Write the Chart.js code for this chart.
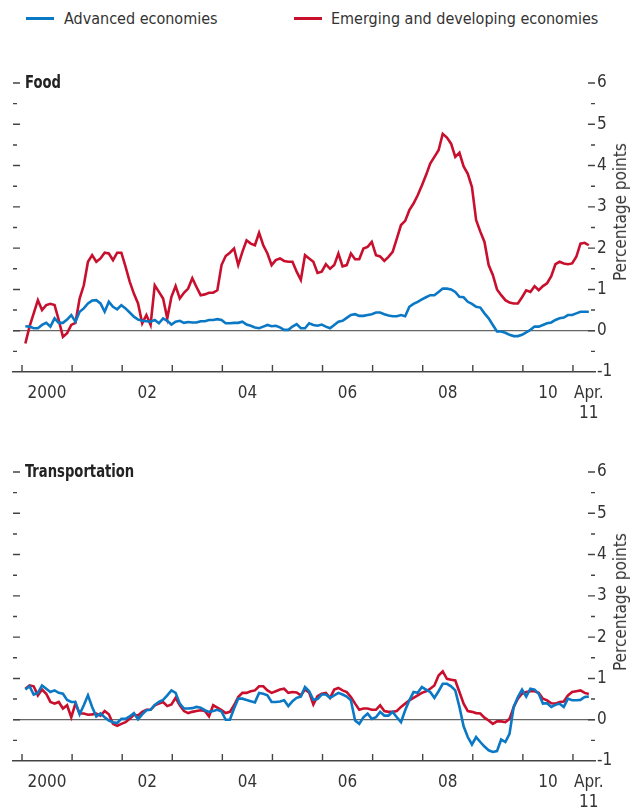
<!DOCTYPE html>
<html>
<head>
<meta charset="utf-8">
<script src="https://cdn.jsdelivr.net/npm/chart.js@4.4.0/dist/chart.umd.min.js"></script>
<style>
  body { margin: 0; width: 630px; height: 809px; position: relative; overflow: hidden; background: #fff;
         font-family: "Liberation Sans Narrow", "DejaVu Sans Condensed", Roboto, sans-serif; color: #333; }
  canvas { position: absolute; left: 0; }
  .swatch { position: absolute; top: 17px; width: 28px; height: 3px; }
  .key { position: absolute; top: 9px; font-size: 16px; line-height: 20px; white-space: nowrap; }
  .ptitle { position: absolute; left: 25px; font-size: 17px; font-weight: bold; line-height: 18px; color: #222;
            transform: scaleX(0.86); transform-origin: left center; }
  .ytitle { position: absolute; font-size: 17px; white-space: nowrap; transform: translate(-50%, -50%) rotate(-90deg); }
</style>
</head>
<body>
<div class="swatch" style="left:26px;background:#0a78c4"></div>
<div class="key" style="left:64px">Advanced economies</div>
<div class="swatch" style="left:294px;background:#c8102e"></div>
<div class="key" style="left:331px">Emerging and developing economies</div>

<canvas id="food" width="630" height="380" style="top:40px"></canvas>
<div class="ptitle" style="top:73px">Food</div>
<div class="ytitle" style="left:620px;top:212px">Percentage points</div>

<canvas id="trans" width="630" height="380" style="top:429px"></canvas>
<div class="ptitle" style="top:462px">Transportation</div>
<div class="ytitle" style="left:620px;top:602px">Percentage points</div>

<script>
// Monthly data, Jan 2000 .. Apr 2011
const foodAdvanced = [
  0.11, 0.10, 0.06, 0.06, 0.14, 0.19, 0.10, 0.30, 0.19, 0.19, 0.27, 0.38,
  0.22, 0.46, 0.54, 0.66, 0.73, 0.74, 0.66, 0.46, 0.70, 0.58, 0.52, 0.62,
  0.54, 0.44, 0.34, 0.27, 0.24, 0.23, 0.22, 0.26, 0.18, 0.30, 0.24, 0.15,
  0.22, 0.24, 0.19, 0.21, 0.20, 0.20, 0.23, 0.23, 0.26, 0.26, 0.28, 0.26,
  0.18, 0.18, 0.19, 0.19, 0.22, 0.15, 0.12, 0.08, 0.06, 0.10, 0.14, 0.11,
  0.12, 0.08, 0.02, 0.02, 0.10, 0.16, 0.06, 0.06, 0.18, 0.14, 0.12, 0.15,
  0.10, 0.06, 0.14, 0.22, 0.24, 0.31, 0.38, 0.40, 0.36, 0.36, 0.38, 0.40,
  0.44, 0.44, 0.40, 0.37, 0.35, 0.35, 0.38, 0.35, 0.58, 0.65, 0.70, 0.76,
  0.81, 0.86, 0.86, 0.94, 1.02, 1.02, 1.00, 0.94, 0.82, 0.81, 0.70, 0.65,
  0.58, 0.56, 0.42, 0.30, 0.14, -0.02, -0.02, -0.05, -0.10, -0.13, -0.13, -0.10,
  -0.04, 0.02, 0.10, 0.10, 0.14, 0.18, 0.20, 0.26, 0.30, 0.32, 0.38, 0.38,
  0.42, 0.46, 0.46, 0.46
];
const foodEmerging = [
  -0.31, 0.10, 0.42, 0.74, 0.50, 0.62, 0.65, 0.62, 0.26, -0.15, -0.06, 0.14,
  0.19, 0.78, 1.10, 1.67, 1.83, 1.67, 1.75, 1.89, 1.87, 1.71, 1.89, 1.89,
  1.55, 1.19, 0.90, 0.66, 0.18, 0.38, 0.14, 1.10, 0.94, 0.78, 0.30, 0.82,
  1.08, 0.78, 0.92, 1.02, 1.27, 1.06, 0.86, 0.88, 0.92, 0.92, 0.98, 1.59,
  1.81, 1.89, 1.99, 1.59, 1.91, 2.19, 2.11, 2.07, 2.37, 2.07, 1.87, 1.59,
  1.71, 1.75, 1.69, 1.67, 1.67, 1.43, 1.23, 1.83, 1.75, 1.67, 1.40, 1.43,
  1.61, 1.50, 1.59, 1.87, 1.56, 1.59, 1.87, 1.73, 1.73, 1.99, 2.03, 2.15,
  1.83, 1.80, 1.69, 1.79, 1.91, 2.23, 2.56, 2.66, 2.92, 3.08, 3.28, 3.52,
  3.77, 4.05, 4.21, 4.37, 4.77, 4.68, 4.53, 4.21, 4.31, 3.98, 3.80, 3.48,
  2.68, 2.40, 2.15, 1.59, 1.35, 1.00, 0.86, 0.74, 0.68, 0.66, 0.66, 0.81,
  0.98, 0.94, 1.08, 0.98, 1.08, 1.15, 1.32, 1.61, 1.67, 1.63, 1.61, 1.63,
  1.79, 2.11, 2.13, 2.07
];
const transAdvanced = [
  0.73, 0.81, 0.61, 0.65, 0.83, 0.75, 0.67, 0.71, 0.65, 0.63, 0.48, 0.43,
  0.43, 0.13, 0.35, 0.59, 0.31, 0.08, 0.15, 0.06, -0.02, -0.06, -0.08, 0.02,
  0.02, 0.08, 0.16, 0.01, 0.13, 0.23, 0.24, 0.36, 0.43, 0.48, 0.59, 0.71,
  0.65, 0.39, 0.27, 0.27, 0.28, 0.31, 0.29, 0.23, 0.19, 0.21, 0.24, 0.20,
  0.00, 0.00, 0.27, 0.51, 0.51, 0.48, 0.45, 0.42, 0.65, 0.63, 0.59, 0.43,
  0.43, 0.44, 0.47, 0.33, 0.45, 0.53, 0.56, 0.79, 0.69, 0.48, 0.50, 0.61,
  0.61, 0.53, 0.59, 0.65, 0.61, 0.56, 0.47, -0.02, -0.10, 0.06, 0.15, 0.02,
  0.06, 0.19, 0.10, 0.10, 0.19, 0.06, -0.06, 0.23, 0.47, 0.67, 0.65, 0.79,
  0.73, 0.67, 0.53, 0.69, 0.87, 0.87, 0.81, 0.71, 0.31, -0.16, -0.42, -0.60,
  -0.42, -0.54, -0.65, -0.74, -0.78, -0.76, -0.48, -0.54, -0.34, 0.31, 0.55, 0.73,
  0.56, 0.75, 0.73, 0.63, 0.39, 0.40, 0.31, 0.36, 0.39, 0.31, 0.51, 0.47,
  0.47, 0.48, 0.55, 0.56
];
const transEmerging = [
  0.75, 0.83, 0.81, 0.59, 0.73, 0.63, 0.43, 0.39, 0.43, 0.27, 0.35, 0.06,
  0.39, 0.15, 0.15, 0.12, 0.13, 0.15, 0.10, 0.21, 0.13, -0.10, -0.15, -0.10,
  -0.06, 0.02, 0.12, 0.10, 0.19, 0.24, 0.24, 0.35, 0.39, 0.43, 0.33, 0.37,
  0.53, 0.35, 0.21, 0.16, 0.19, 0.21, 0.23, 0.21, 0.08, 0.35, 0.29, 0.23,
  0.16, 0.19, 0.35, 0.55, 0.65, 0.65, 0.69, 0.71, 0.81, 0.81, 0.71, 0.65,
  0.69, 0.73, 0.75, 0.65, 0.67, 0.66, 0.59, 0.73, 0.66, 0.37, 0.57, 0.63,
  0.65, 0.53, 0.73, 0.77, 0.71, 0.67, 0.55, 0.39, 0.24, 0.27, 0.27, 0.24,
  0.24, 0.35, 0.21, 0.19, 0.19, 0.21, 0.31, 0.39, 0.47, 0.53, 0.59, 0.65,
  0.69, 0.75, 0.83, 1.07, 1.17, 0.99, 0.97, 0.95, 0.67, 0.39, 0.21, 0.19,
  0.16, 0.15, 0.05, -0.02, -0.10, -0.04, -0.04, -0.06, 0.02, 0.31, 0.51, 0.63,
  0.67, 0.69, 0.69, 0.65, 0.51, 0.47, 0.40, 0.39, 0.43, 0.44, 0.59, 0.67,
  0.69, 0.71, 0.65, 0.62
];

const yearTicks = [2000, 2001, 2002, 2003, 2004, 2005, 2006, 2007, 2008, 2009, 2010, 2011];
const labelYears = [2000, 2002, 2004, 2006, 2008, 2010];
const xLabels = ['2000', '02', '04', '06', '08', '10', ['Apr.', '11']];
const yTicks = [-1, 0, 1, 2, 3, 4, 5, 6];

const BLUE = '#0a78c4', RED = '#c8102e';
const FONT = '"Liberation Sans Narrow", "DejaVu Sans Condensed", Roboto, sans-serif';

const monthX = i => 2000 + (i + 0.8) / 12;
const toPoints = arr => arr.map((v, i) => ({ x: monthX(i), y: v }));
const lastX = monthX(foodAdvanced.length - 1);
const labelPos = labelYears.map(y => y + 0.5).concat([lastX]);

// short dashes on both sides + year marks pointing up from the axis
const tickMarks = {
    id: 'tickMarks',
    beforeDatasetsDraw(chart) {
        const { ctx, chartArea: a, scales: { x, y } } = chart;
        ctx.save();
        ctx.strokeStyle = '#444';
        ctx.lineWidth = 1.4;
        ctx.beginPath();
        for (let v = -0.5; v <= 6; v += 0.5) {
            const py = y.getPixelForValue(v);
            const len = Number.isInteger(v) ? 7 : 4;
            ctx.moveTo(a.left, py); ctx.lineTo(a.left + len, py);
            ctx.moveTo(a.right - len, py); ctx.lineTo(a.right, py);
        }
        yearTicks.forEach(yr => {
            const px = x.getPixelForValue(yr);
            ctx.moveTo(px, a.bottom); ctx.lineTo(px, a.bottom - 7);
        });
        ctx.stroke();
        ctx.restore();
    }
};

function makeChart(id, adv, emg) {
    // first dataset is painted last, so the blue line sits on top
    return new Chart(document.getElementById(id), {
        type: 'line',
        data: {
            datasets: [
                { label: 'Advanced economies', data: toPoints(adv), borderColor: BLUE, borderWidth: 2.6, pointRadius: 0, tension: 0 },
                { label: 'Emerging and developing economies', data: toPoints(emg), borderColor: RED, borderWidth: 2.6, pointRadius: 0, tension: 0 }
            ]
        },
        options: {
            responsive: false,
            animation: false,
            layout: { padding: { top: 43, left: 13, right: 0, bottom: 0 } },
            plugins: { legend: { display: false }, tooltip: { enabled: false } },
            scales: {
                x: {
                    type: 'linear', min: 1999.82, max: 2011.44,
                    afterFit: s => { s.height = 48; },
                    afterBuildTicks: s => { s.ticks = labelPos.map(v => ({ value: v })); },
                    grid: { display: false },
                    border: { display: true, color: '#444', width: 1.5 },
                    ticks: { callback: (v, i) => xLabels[i], autoSkip: false, maxRotation: 0, padding: 3,
                             color: '#333', font: { family: FONT, size: 17 } }
                },
                y: {
                    position: 'right', min: -1, max: 6,
                    afterFit: s => { s.width = 35; },
                    afterBuildTicks: s => { s.ticks = yTicks.map(v => ({ value: v })); },
                    grid: { drawTicks: false, lineWidth: 1.2, color: c => c.tick && c.tick.value === 0 ? '#666' : 'rgba(0,0,0,0)' },
                    border: { display: false },
                    ticks: { padding: 2, color: '#333', font: { family: FONT, size: 17 } }
                }
            }
        },
        plugins: [tickMarks]
    });
}

makeChart('food', foodAdvanced, foodEmerging);
makeChart('trans', transAdvanced, transEmerging);
</script>
</body>
</html>
